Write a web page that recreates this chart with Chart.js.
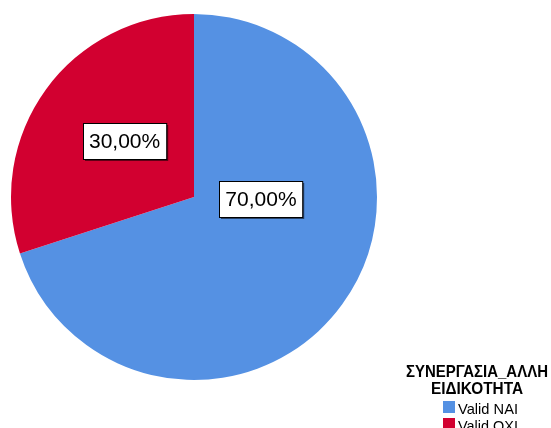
<!DOCTYPE html>
<html>
<head>
<meta charset="utf-8">
<script src="https://cdn.jsdelivr.net/npm/chart.js@4"></script>
<style>
html,body{margin:0;padding:0;background:#fff;}
#wrap{width:551px;height:428px;position:relative;overflow:hidden;}
</style>
</head>
<body>
<div id="wrap"><canvas id="c" width="551" height="428"></canvas></div>
<script>
const categories = ["Valid NAI", "Valid OXI"];
const values = [70, 30];
const percentLabels = ["70,00%", "30,00%"];
const legendTitle = ["ΣΥΝΕΡΓΑΣΙΑ_ΑΛΛΗ", "ΕΙΔΙΚΟΤΗΤΑ"];
const colors = ["#5591e3", "#d20030"];

const labelPlugin = {
  id: 'boxLabels',
  afterDatasetsDraw(chart, args, opts) {
    const ctx = chart.ctx;
    const meta = chart.getDatasetMeta(0);
    meta.data.forEach((arc, i) => {
      const p = opts.placement[i];
      const a = (p.angle - 90) * Math.PI / 180;
      const r = arc.outerRadius * p.r;
      const cx = arc.x + Math.cos(a) * r;
      const cy = arc.y + Math.sin(a) * r;
      ctx.save();
      ctx.font = '21px "Liberation Sans", Arial, sans-serif';
      const txt = percentLabels[i];
      const w = ctx.measureText(txt).width + 12;
      const h = 36;
      const x0 = Math.round(cx - w / 2) + 0.5, y0 = Math.round(cy - h / 2) + 0.5;
      ctx.fillStyle = 'rgba(0,0,0,0.55)';
      ctx.fillRect(x0 + 1.5, y0 + 1.5, w, h);
      ctx.fillStyle = '#fff';
      ctx.fillRect(x0, y0, w, h);
      ctx.strokeStyle = '#000';
      ctx.lineWidth = 1;
      ctx.strokeRect(x0, y0, w, h);
      ctx.fillStyle = '#000';
      ctx.textAlign = 'center';
      ctx.textBaseline = 'middle';
      ctx.fillText(txt, cx, cy + 1, w - 8);
      ctx.restore();
    });
  }
};

const legendPlugin = {
  id: 'customLegend',
  afterDraw(chart, args, opts) {
    const ctx = chart.ctx;
    ctx.save();
    ctx.fillStyle = '#000';
    ctx.textAlign = 'center';
    ctx.textBaseline = 'middle';
    ctx.font = 'bold 16.5px "Liberation Sans", Arial, sans-serif';
    legendTitle.forEach((t, i) => ctx.fillText(t, opts.cx, opts.titleY + i * 17, opts.titleW[i]));
    ctx.font = '15px "Liberation Sans", Arial, sans-serif';
    ctx.textAlign = 'left';
    categories.forEach((c, i) => {
      const y = opts.itemY + i * 17;
      ctx.fillStyle = colors[i];
      ctx.fillRect(opts.swX, y - 8, 12, 12);
      ctx.fillStyle = '#000';
      ctx.fillText(c, opts.swX + 15, y + 1, 60);
    });
    ctx.restore();
  }
};

new Chart(document.getElementById('c'), {
  type: 'pie',
  data: {
    labels: categories,
    datasets: [{
      data: values,
      backgroundColor: colors,
      borderWidth: 0
    }]
  },
  options: {
    responsive: false,
    animation: false,
    layout: { padding: { left: 11, right: 174, top: 14, bottom: 48 } },
    plugins: {
      legend: { display: false },
      tooltip: { enabled: false },
      boxLabels: { placement: [{ angle: 92, r: 0.366 }, { angle: 309, r: 0.488 }] },
      customLegend: { cx: 477, titleY: 372, titleW: [142, 92], itemY: 409, swX: 443 }
    }
  },
  plugins: [labelPlugin, legendPlugin]
});
</script>
</body>
</html>
